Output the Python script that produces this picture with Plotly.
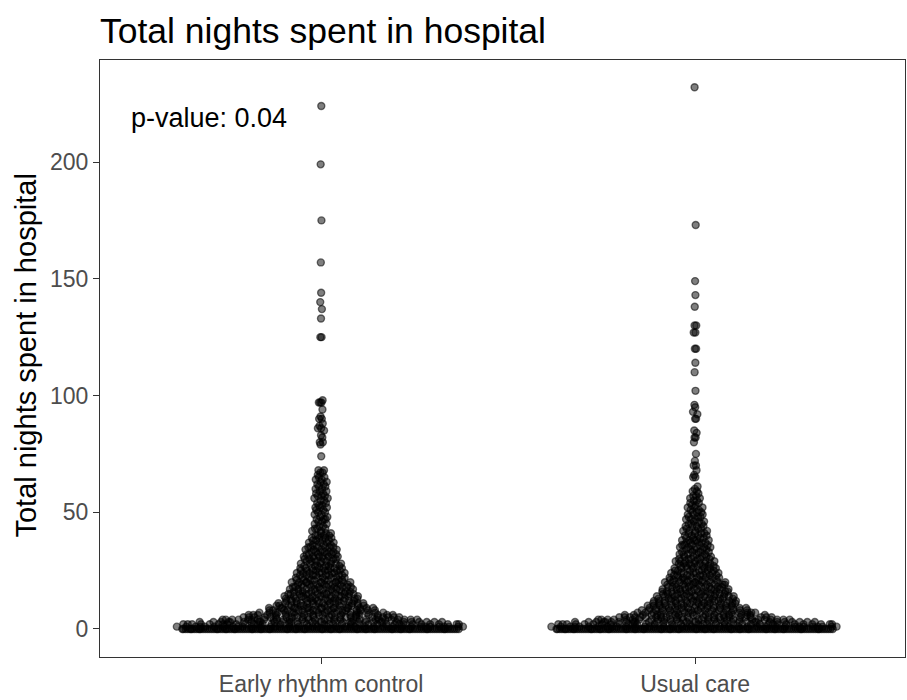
import numpy as np
import plotly.graph_objects as go

# ---------------- data ----------------
GROUPS = ["Early rhythm control", "Usual care"]

# Early rhythm control: nights value -> number of patients
ERC_VALUES = list(range(0, 69)) + [74, 79, 80, 82, 83, 85, 86, 87, 88, 90, 91, 94, 97, 98,
                                    125, 133, 137, 140, 144, 157, 175, 199, 224]
ERC_COUNTS = [150,
              40, 38, 34, 30, 24, 20, 20, 18, 16, 14,
              14, 12, 12, 12, 12, 10, 10, 10, 10, 10,
              8, 8, 8, 8, 8, 8, 6, 6, 6, 6,
              6, 6, 6, 4, 6, 4, 4, 4, 4, 4,
              3, 2, 3, 2, 2, 2, 3, 2, 2, 2,
              2, 3, 2, 2, 2, 2, 3, 2, 2, 2,
              2, 2, 2, 2, 2, 1, 2, 2,
              1, 1, 2, 1, 1, 1, 2, 1, 1, 2, 1, 1, 3, 1,
              2, 1, 1, 1, 1, 1, 1, 1, 1]

# Usual care
UC_VALUES = list(range(0, 58)) + [58, 59, 60, 61, 65, 66, 68, 70, 72, 75, 80, 82, 84, 85,
                                   90, 92, 93, 95, 96, 102, 110, 114, 120, 127, 130, 138,
                                   143, 149, 173, 232]
UC_COUNTS = [150,
             40, 37, 33, 29, 24, 20, 18, 16, 16, 14,
             14, 14, 12, 12, 12, 12, 10, 10, 10, 10,
             9, 8, 8, 8, 7, 7, 7, 7, 6, 6,
             5, 5, 5, 5, 5, 5, 5, 5, 4, 4,
             4, 4, 3, 4, 3, 3, 3, 3, 3, 3,
             2, 3, 2, 2, 2, 2, 2,
             1, 2, 1, 1, 2, 1, 1, 2, 1, 1, 1, 2, 1, 1,
             2, 1, 1, 1, 1, 1, 1, 1, 2, 2, 2, 1,
             1, 1, 1, 1]

Y_TICKS = [0, 50, 100, 150, 200]
TITLE = "Total nights spent in hospital"
Y_TITLE = "Total nights spent in hospital"
P_TEXT = "p-value: 0.04"

# ---------------- layout geometry ----------------
W, H = 907, 700
M_L, M_R, M_T, M_B = 100, 2, 60, 43
X_RANGE = [0.409, 2.561]
Y_RANGE = [-12.0, 243.7]
plot_w = W - M_L - M_R

SWARM_WIDTH = 0.4      # quasirandom half width (x units)
BW_ADJUST = 0.5        # bandwidth adjustment


def expand(values, counts):
    out = []
    for v, c in zip(values, counts):
        out += [v] * c
    return np.array(out, dtype=float)


def bw_nrd0(y):
    sd = np.std(y, ddof=1)
    q75, q25 = np.percentile(y, [75, 25])
    lo = min(sd, (q75 - q25) / 1.34)
    if lo <= 0:
        lo = sd if sd > 0 else 1.0
    return 0.9 * lo * len(y) ** (-0.2)


def van_der_corput(n, base=2):
    seq = []
    for k in range(1, n + 1):
        v, denom, i = 0.0, 1.0, k
        while i > 0:
            denom *= base
            i, r = divmod(i, base)
            v += r / denom
        seq.append(v)
    return np.array(seq)


def quasirandom_offsets(y):
    bw = bw_nrd0(y) * BW_ADJUST
    grid = np.linspace(y.min() - 3 * bw, y.max() + 3 * bw, 512)
    kde = lambda t: np.exp(-0.5 * ((t[:, None] - y[None, :]) / bw) ** 2).sum(axis=1)
    dmax = kde(grid).max()
    dens = kde(y) / dmax
    rank = np.argsort(np.argsort(y, kind="stable"), kind="stable")
    vdc = van_der_corput(len(y))[rank]
    return dens * (vdc - 0.5) * 2 * SWARM_WIDTH


fig = go.Figure()
for gi, (vals, cnts) in enumerate([(ERC_VALUES, ERC_COUNTS), (UC_VALUES, UC_COUNTS)]):
    y = expand(vals, cnts)
    x = (gi + 1) + quasirandom_offsets(y)
    fig.add_trace(go.Scatter(
        x=x, y=y, mode="markers", name=GROUPS[gi], showlegend=False,
        marker=dict(size=7, color="rgba(0,0,0,0.5)",
                    line=dict(color="rgba(0,0,0,0.55)", width=1.4)),
        hoverinfo="y",
    ))

axis_common = dict(showgrid=False, zeroline=False, showline=True, mirror=True,
                   linecolor="#333333", linewidth=1.3, ticks="outside", ticklen=6,
                   tickcolor="#333333", tickwidth=1.3,
                   tickfont=dict(family="Liberation Sans, Arial, sans-serif", size=23, color="#4d4d4d"))

fig.update_layout(
    width=W, height=H,
    margin=dict(l=M_L, r=M_R, t=M_T, b=M_B),
    paper_bgcolor="white", plot_bgcolor="white",
    font=dict(family="Liberation Sans, Arial, sans-serif"),
    title=dict(text=TITLE, x=M_L / W, xanchor="left", xref="container",
               y=1 - 31 / H, yanchor="middle", yref="container",
               font=dict(size=35.5, color="black")),
    xaxis=dict(range=X_RANGE, tickvals=[1, 2], ticktext=GROUPS, **axis_common),
    yaxis=dict(range=Y_RANGE, tickvals=Y_TICKS, ticktext=[str(t) for t in Y_TICKS], **axis_common),
    annotations=[
        dict(x=0.70, y=219, xref="x", yref="y", text=P_TEXT, showarrow=False,
             xanchor="center", yanchor="middle", font=dict(size=27, color="black")),
        dict(x=(26 - M_L) / plot_w, y=0.505, xref="paper", yref="paper", text=Y_TITLE,
             showarrow=False, textangle=-90, xanchor="center", yanchor="middle",
             font=dict(size=29, color="black")),
    ],
)

fig.write_html("out.html")
